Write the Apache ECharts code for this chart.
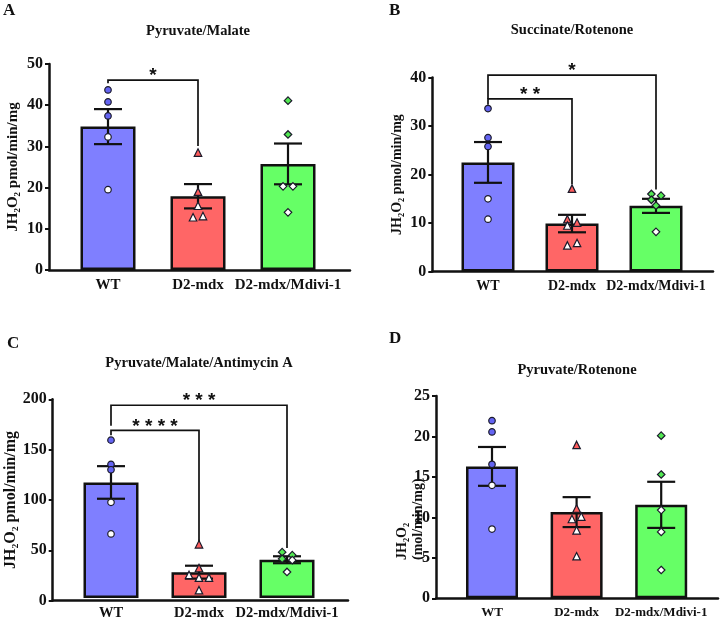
<!DOCTYPE html>
<html><head><meta charset="utf-8">
<script src="https://cdn.jsdelivr.net/npm/echarts@6/dist/echarts.min.js"></script>
<style>html,body{margin:0;padding:0;background:#fff}#c{width:720px;height:621px}</style>
</head><body><div id="c"></div>
<script>
// ---------- DATA ----------
const categories = ['WT', 'D2-mdx', 'D2-mdx/Mdivi-1'];

// Panel A: Pyruvate/Malate
const aTicks = [0, 10, 20, 30, 40, 50];
const aMeans = [34.8, 17.9, 25.75];
const aSems = [4.25, 2.95, 4.95];
const aWT = [43.7, 40.8, 37.4, 32.3, 19.5];
const aD2 = [28.5, 19.0, 15.6, 12.8, 13.1];
const aMd = [41.1, 32.9, 20.3, 20.3, 14.0];
const aWTo = [0, 0, 0, 0, 0];
const aD2o = [0, 0, 0, -0.055, 0.055];
const aMdo = [0, 0, -0.055, 0.055, 0];
// bracket: [from, to, top, leftEnd, rightEnd]
const aBrackets = [[0, 1, 46.1, 45.3, 30.1]];
const aStars = ['*'];

// Panel B: Succinate/Rotenone
const bTicks = [0, 10, 20, 30, 40];
const bMeans = [22.5, 9.9, 13.55];
const bSems = [4.2, 1.8, 1.45];
const bWT = [33.6, 27.6, 25.8, 15.0, 10.8];
const bD2 = [17.1, 10.8, 10.1, 9.5, 5.4, 5.9];
const bMd = [16.0, 15.65, 14.8, 13.6, 8.2];
const bWTo = [0, 0, 0, 0, 0];
const bD2o = [0, -0.055, 0.06, -0.055, -0.055, 0.06];
const bMdo = [-0.055, 0.06, -0.055, 0, 0];
const bBrackets = [[0, 1, 35.6, 34.4, 18.0], [0, 2, 40.5, 35.6, 16.9]];
const bStars = ['* *', '*'];

// Panel C: Pyruvate/Malate/Antimycin A
const cTicks = [0, 50, 100, 150, 200];
const cMeans = [116.3, 26.0, 38.5];
const cSems = [16.4, 6.5, 3.5];
const cWT = [158.9, 134.5, 129.1, 96.3, 64.5];
const cD2 = [54.0, 30.2, 23.2, 20.5, 20.5, 7.9];
const cMd = [46.1, 43.1, 39.4, 38.1, 26.2];
const cWTo = [0, 0, 0, 0, 0];
const cD2o = [0, 0, -0.113, 0, 0.113, 0];
const cMdo = [-0.055, 0.06, -0.055, 0.06, 0];
const cBrackets = [[0, 1, 168.8, 163.9, 57.0], [0, 2, 194.0, 173.5, 50.3]];
const cStars = ['* * * *', '* * *'];

// Panel D: Pyruvate/Rotenone
const dTicks = [0, 5, 10, 15, 20, 25];
const dMeans = [16.3, 10.65, 11.55];
const dSems = [2.4, 1.85, 2.85];
const dWT = [21.95, 20.56, 16.56, 13.96, 8.56];
const dD2 = [18.95, 11.1, 9.8, 10.1, 8.4, 5.2];
const dMd = [20.1, 15.3, 10.9, 8.2, 3.5];
const dWTo = [0, 0, 0, 0, 0];
const dD2o = [0, 0, -0.055, 0.055, 0, 0];
const dMdo = [0, 0, 0, 0, 0];
const dBrackets = [];
const dStars = [];

// ---------- STYLE / LAYOUT ----------
const FONT = '"Liberation Serif", "Times New Roman", serif';
const barColors = ['#7f7fff', '#ff6666', '#66ff66'];
const ptColors = ['#6464f2', '#ff5c5c', '#52e852'];
const symbols = ['circle', 'triangle', 'diamond'];
const symSizes = [6.5, 7.5, 7.5];

const panels = [
  {letter: 'A', title: 'Pyruvate/Malate', ticks: aTicks, means: aMeans, sems: aSems, pts: [aWT, aD2, aMd], offs: [aWTo, aD2o, aMdo], brackets: aBrackets, stars: aStars, yName: 'JH₂O₂ pmol/min/mg',
   L: {fl: 49, fr: 350, top: 64, bot: 270, dl: 63, dw: 270, bw: 55, lab: 15, nameSize: 15, nameGap: 28, tx: 198, ty: 24, lx: 3, ly: 2}},
  {letter: 'B', title: 'Succinate/Rotenone', ticks: bTicks, means: bMeans, sems: bSems, pts: [bWT, bD2, bMd], offs: [bWTo, bD2o, bMdo], brackets: bBrackets, stars: bStars, yName: 'JH₂O₂ pmol/min/mg',
   L: {fl: 432.3, fr: 713, top: 77.5, bot: 271.6, dl: 446, dw: 252, bw: 53, lab: 14, nameSize: 14, nameGap: 28, tx: 572, ty: 23, lx: 389, ly: 2}},
  {letter: 'C', title: 'Pyruvate/Malate/Antimycin A', ticks: cTicks, means: cMeans, sems: cSems, pts: [cWT, cD2, cMd], offs: [cWTo, cD2o, cMdo], brackets: cBrackets, stars: cStars, yName: 'JH₂O₂ pmol/min/mg',
   L: {fl: 52.7, fr: 348, top: 399.3, bot: 600.7, dl: 67, dw: 264, bw: 55, lab: 14.5, nameSize: 16, nameGap: 30, tx: 199, ty: 356, lx: 7, ly: 335}},
  {letter: 'D', title: 'Pyruvate/Rotenone', ticks: dTicks, means: dMeans, sems: dSems, pts: [dWT, dD2, dMd], offs: [dWTo, dD2o, dMdo], brackets: dBrackets, stars: dStars, yName: null,
   L: {fl: 436, fr: 718, top: 396, bot: 598.3, dl: 449.7, dw: 253.8, bw: 52, lab: 13, nameSize: 13, nameGap: 20, tx: 577, ty: 363, lx: 389, ly: 330}}
];

const grid = [], xAxis = [], yAxis = [], series = [], title = [];

function errRender(params, api) {
  const x = api.value(0), m = api.value(1), s = api.value(2);
  const t = api.coord([x, m + s]), b = api.coord([x, m - s]);
  const hw = 14;
  const st = {stroke: '#111', lineWidth: 2.2};
  return {type: 'group', children: [
    {type: 'line', shape: {x1: t[0], y1: t[1], x2: b[0], y2: b[1]}, style: st},
    {type: 'line', shape: {x1: t[0] - hw, y1: t[1], x2: t[0] + hw, y2: t[1]}, style: st},
    {type: 'line', shape: {x1: b[0] - hw, y1: b[1], x2: b[0] + hw, y2: b[1]}, style: st}
  ]};
}
function bracketRender(labels) {
  return function (params, api) {
    const x1 = api.value(0), x2 = api.value(1), yt = api.value(2), yl = api.value(3), yr = api.value(4);
    const tl = api.coord([x1, yt]), tr = api.coord([x2, yt]), bl = api.coord([x1, yl]), br = api.coord([x2, yr]);
    return {type: 'group', children: [
      {type: 'polyline', shape: {points: [bl, tl, tr, br]}, style: {stroke: '#111', lineWidth: 1.7, fill: null}},
      {type: 'text', x: (tl[0] + tr[0]) / 2, y: tl[1] - 4, style: {text: labels[params.dataIndex], font: 'bold 19px "Liberation Sans", Arial, sans-serif', fill: '#111', align: 'center', verticalAlign: 'middle'}}
    ]};
  };
}

panels.forEach((p, k) => {
  const L = p.L;
  const h = L.bot - L.top;
  const ymin = p.ticks[0], ymax = p.ticks[p.ticks.length - 1], step = p.ticks[1] - p.ticks[0];
  grid.push({left: L.fl, top: L.top, width: L.fr - L.fl, height: h, containLabel: false});
  grid.push({left: L.dl, top: L.top, width: L.dw, height: h, containLabel: false});
  const gF = 2 * k, gD = 2 * k + 1;
  xAxis.push({type: 'value', gridIndex: gF, min: 0, max: 1, axisLine: {show: true, lineStyle: {color: '#111', width: 2.5}},
    axisTick: {show: false}, axisLabel: {show: false}, splitLine: {show: false}});
  const xC = xAxis.length;
  xAxis.push({type: 'category', gridIndex: gD, data: categories, axisLine: {show: false}, axisTick: {show: false},
    axisLabel: {show: true, interval: 0, margin: 8, fontFamily: FONT, fontWeight: 'bold', fontSize: L.lab, color: '#111'}});
  const xV = xAxis.length;
  xAxis.push({type: 'value', gridIndex: gD, min: -0.5, max: 2.5, show: false});
  yAxis.push({type: 'value', gridIndex: gF, min: ymin, max: ymax, interval: step,
    axisLine: {show: true, lineStyle: {color: '#111', width: 2.5}},
    axisTick: {show: true, length: 4, lineStyle: {color: '#111', width: 2}},
    axisLabel: {margin: 6, fontFamily: FONT, fontWeight: 'bold', fontSize: 16, color: '#111'},
    splitLine: {show: false},
    name: p.yName || '', nameLocation: 'middle', nameGap: L.nameGap,
    nameTextStyle: {fontFamily: FONT, fontWeight: 'bold', fontSize: L.nameSize, color: '#111'}});
  const yD = yAxis.length;
  yAxis.push({type: 'value', gridIndex: gD, min: ymin, max: ymax, show: false});

  series.push({type: 'bar', xAxisIndex: xC, yAxisIndex: yD, data: p.means, barWidth: L.bw, z: 2,
    itemStyle: {color: (q) => barColors[q.dataIndex], borderColor: '#111', borderWidth: 2.5}});
  series.push({type: 'custom', xAxisIndex: xV, yAxisIndex: yD, z: 3, clip: false, renderItem: errRender,
    data: p.means.map((m, i) => [i, m, p.sems[i]])});
  p.pts.forEach((arr, g) => {
    series.push({type: 'scatter', xAxisIndex: xV, yAxisIndex: yD, z: 4, symbol: symbols[g], symbolSize: symSizes[g],
      data: arr.map((v, j) => [g + p.offs[g][j], v]),
      itemStyle: {color: (q) => (q.value[1] > p.means[g] ? ptColors[g] : '#ffffff'), borderColor: '#1a1a2a', borderWidth: 1.2, opacity: 1}});
  });
  if (p.brackets.length) {
    series.push({type: 'custom', xAxisIndex: xV, yAxisIndex: yD, z: 5, clip: false, renderItem: bracketRender(p.stars), data: p.brackets});
  }
  title.push({text: p.title, left: L.tx, top: L.ty, textAlign: 'center', padding: 0,
    textStyle: {fontFamily: FONT, fontWeight: 'bold', fontSize: 14.5, color: '#111'}});
  title.push({text: p.letter, left: L.lx, top: L.ly, padding: 0,
    textStyle: {fontFamily: FONT, fontWeight: 'bold', fontSize: 17, color: '#111'}});
});

const chart = echarts.init(document.getElementById('c'), null, {renderer: 'canvas'});
chart.setOption({
  animation: false,
  backgroundColor: '#ffffff',
  title, grid, xAxis, yAxis, series,
  graphic: [{type: 'text', x: 410, y: 560, rotation: Math.PI / 2,
    style: {text: 'JH₂O₂\n(mol/min/mg)', font: 'bold 14px ' + FONT, fill: '#111', align: 'left', verticalAlign: 'middle', lineHeight: 16}}]
});
</script></body></html>
